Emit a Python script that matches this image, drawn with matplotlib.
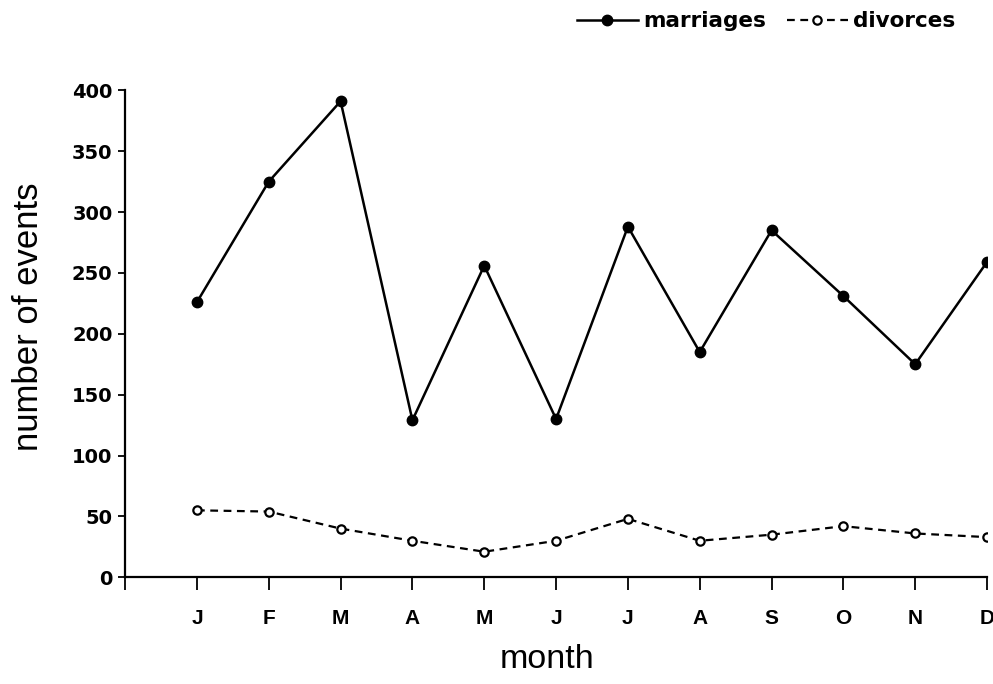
import numpy as np
import matplotlib.pyplot as plt

plt.rcParams['font.family'] = ['Liberation Sans', 'DejaVu Sans']

months = ['J', 'F', 'M', 'A', 'M', 'J', 'J', 'A', 'S', 'O', 'N', 'D']
marriages = [226, 325, 391, 129, 256, 130, 288, 185, 285, 231, 175, 259]
divorces = [55, 54, 40, 30, 21, 30, 48, 30, 35, 42, 36, 33]
yticks = [0, 50, 100, 150, 200, 250, 300, 350, 400]

x = np.arange(1, len(months) + 1)

fig = plt.figure(figsize=(9.93, 6.84), dpi=100)
ax = fig.add_axes([0.126, 0.156, 0.868, 0.712])

ax.plot(x, marriages, color='black', lw=1.8, marker='o', ms=7.5,
        mfc='black', mec='black', label='marriages')
ax.plot(x, divorces, color='black', lw=1.6, ls=(0, (3.5, 2.5)), marker='o', ms=6,
        mfc='white', mec='black', mew=1.6, label='divorces')

ax.set_xlim(0, 12)
ax.set_ylim(0, 400)
# extra tick at 0 so the x axis starts with a tick mark
ax.set_xticks(np.arange(0, len(months) + 1))
ax.set_xticklabels([''] + months, fontsize=15, fontweight='bold',
                   family=['Liberation Sans'])
ax.set_yticks(yticks)
ax.set_yticklabels([str(v) for v in yticks], fontsize=14, fontweight='bold',
                   family=['DejaVu Sans'])

for s in ['top', 'right']:
    ax.spines[s].set_visible(False)
for s in ['left', 'bottom']:
    ax.spines[s].set_linewidth(1.6)
ax.tick_params(axis='x', direction='out', length=9, width=1.3, pad=14)
ax.tick_params(axis='y', direction='out', length=5, width=1.3, pad=4)

ax.set_xlabel('month', fontsize=24.5)
ax.set_ylabel('number of events', fontsize=25)
ax.xaxis.set_label_coords(0.49, -0.137)
ax.yaxis.set_label_coords(-0.093, 0.534)

fig.legend(loc='center right', bbox_to_anchor=(0.962, 0.969), ncol=2,
           frameon=False, borderpad=0, borderaxespad=0,
           prop={'family': 'DejaVu Sans', 'weight': 'bold', 'size': 15.5},
           handlelength=2.8, handletextpad=0.25, columnspacing=1.0,
           numpoints=1)

fig.savefig('out.png', dpi=100, facecolor='white')
